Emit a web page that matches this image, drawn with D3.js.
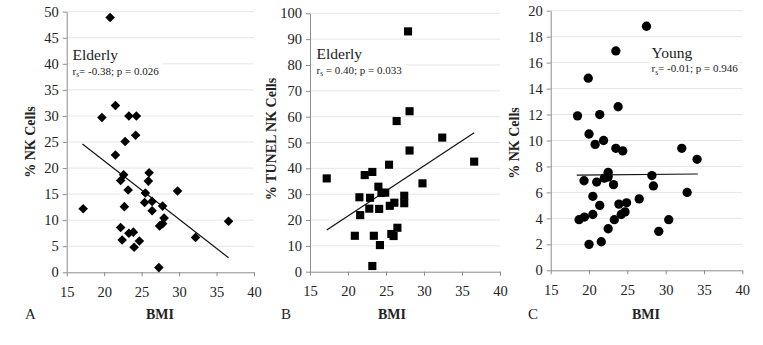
<!DOCTYPE html>
<html>
<head>
<meta charset="utf-8">
<script src="https://cdn.jsdelivr.net/npm/d3@7"></script>
<style>
  body { margin: 0; background: #fff; }
  svg text { font-family: 'Liberation Serif', 'Times New Roman', Times, serif; }
</style>
</head>
<body>
<svg width="763" height="345"></svg>
<script>
// panel A: elderly, % NK cells vs BMI
const bmiA = [20.8, 19.7, 21.5, 23.3, 24.3, 24.2, 22.8, 21.5, 22.6, 22.2, 26.0, 25.9, 23.2, 25.5, 25.4, 26.4,
              26.4, 27.8, 29.8, 17.2, 22.7, 22.2, 28.0, 27.4, 27.8, 22.4, 23.3, 23.9, 24.0, 24.7, 32.2, 36.6, 27.3];
const nkA  = [48.9, 29.7, 32.0, 30.0, 30.0, 26.3, 25.1, 22.5, 18.7, 17.6, 19.1, 17.5, 15.8, 15.2, 13.4, 13.6,
              11.8, 12.7, 15.6, 12.2, 12.6, 8.6, 10.4, 8.9, 9.3, 6.2, 7.5, 7.7, 4.8, 6.0, 6.7, 9.8, 0.9];
const trendA = [[17.1, 24.6], [36.6, 2.8]];

// panel B: elderly, % TUNEL NK cells vs BMI
const bmiB = [27.9, 28.1, 26.4, 32.4, 28.1, 25.4, 36.6, 23.2, 17.2, 22.2, 29.8, 24.0, 24.4, 24.9, 21.5,
              22.9, 27.4, 27.4, 26.1, 25.5, 22.8, 24.1, 21.6, 20.9, 23.4, 25.7, 26.0, 26.5, 24.2, 23.2];
const tunelB = [93.0, 62.1, 58.3, 51.9, 46.9, 41.4, 42.6, 38.6, 36.1, 37.4, 34.2, 32.9, 30.5, 30.6, 28.8,
                28.6, 29.4, 26.5, 26.7, 25.5, 24.4, 24.3, 21.9, 13.9, 13.9, 14.6, 13.8, 17.0, 10.3, 2.2];
const trendB = [[17.2, 16.1], [36.6, 53.8]];

// panel C: young, % NK cells vs BMI
const bmiC = [27.5, 23.5, 19.9, 18.5, 21.4, 23.8, 20.0, 20.8, 21.9, 23.5, 24.4, 32.1, 34.1, 32.8,
              22.5, 28.2, 19.35, 21.0, 22.0, 22.5, 23.2, 28.4, 20.5, 26.55, 21.4, 23.9, 24.9, 24.7,
              24.2, 20.5, 18.7, 19.4, 23.3, 30.4, 22.5, 29.1, 20.0, 21.6];
const nkC  = [18.8, 16.9, 14.8, 11.9, 12.0, 12.6, 10.5, 9.7, 10.0, 9.4, 9.2, 9.4, 8.55, 6.0,
              7.55, 7.3, 6.9, 6.8, 7.1, 7.2, 6.6, 6.5, 5.7, 5.5, 5.0, 5.1, 5.2, 4.5,
              4.3, 4.3, 3.9, 4.1, 3.9, 3.9, 3.2, 3.0, 2.0, 2.2];
const trendC = [[18.4, 7.34], [34.2, 7.42]];

const xTicks = [15, 20, 25, 30, 35, 40];
const yTicksA = [0, 5, 10, 15, 20, 25, 30, 35, 40, 45, 50];
const yTicksB = [0, 10, 20, 30, 40, 50, 60, 70, 80, 90, 100];
const yTicksC = [0, 2, 4, 6, 8, 10, 12, 14, 16, 18, 20];

const serif = "'Liberation Serif', 'Times New Roman', Times, serif";

const panels = [
    {letter: "A", xs: bmiA, ys: nkA, trend: trendA, yTicks: yTicksA, yMax: 50, shape: "diamond",
     yTitle: "% NK Cells", group: "Elderly", rs: "= -0.38; p = 0.026",
     area: {x0: 66.7, x1: 254, y0: 272.3, y1: 11.7}, titleX: 34.5, titleY: 142, letterX: 25, bmiX: 160,
     note: {x: 72.5, y: 60, w: 92}},
    {letter: "B", xs: bmiB, ys: tunelB, trend: trendB, yTicks: yTicksB, yMax: 100, shape: "square",
     yTitle: "% TUNEL NK Cells", group: "Elderly", rs: " = 0.40; p = 0.033",
     area: {x0: 310, x1: 500, y0: 271.7, y1: 13.3}, titleX: 275.5, titleY: 139, letterX: 281, bmiX: 392,
     note: {x: 316.5, y: 59, w: 90}},
    {letter: "C", xs: bmiC, ys: nkC, trend: trendC, yTicks: yTicksC, yMax: 20, shape: "circle",
     yTitle: "% NK Cells", group: "Young", rs: "= -0.01; p = 0.946",
     area: {x0: 550.7, x1: 742.3, y0: 270.3, y1: 10.7}, titleX: 519, titleY: 143, letterX: 528, bmiX: 646,
     note: {x: 651.5, y: 57.5, w: 90}}
];

const svg = d3.select("svg");

const drawPanel = (p) => {
    const g = svg.append("g");
    const scX = d3.scaleLinear().domain([15, 40]).range([p.area.x0, p.area.x1]);
    const scY = d3.scaleLinear().domain([0, p.yMax]).range([p.area.y0, p.area.y1]);

    // gridlines
    g.selectAll(".grid")
     .data(p.yTicks.slice(1))
     .enter()
     .append("line")
     .attr("x1", p.area.x0)
     .attr("x2", p.area.x1)
     .attr("y1", d => scY(d))
     .attr("y2", d => scY(d))
     .style("stroke", "#e6e6e6")
     .style("stroke-width", 1);

    // white box behind annotation
    g.append("rect")
     .attr("x", p.note.x - 2)
     .attr("y", p.note.y - 13)
     .attr("width", p.note.w)
     .attr("height", 31)
     .style("fill", "#fff");

    const axisY = d3.axisLeft(scY).tickValues(p.yTicks).tickSize(4).tickSizeOuter(0);
    const axisX = d3.axisBottom(scX).tickValues(xTicks).tickSize(4).tickSizeOuter(0);

    const gy = g.append("g")
                .attr("transform", `translate(${p.area.x0},0)`)
                .call(axisY);
    const gx = g.append("g")
                .attr("transform", `translate(0,${p.area.y0})`)
                .call(axisX);
    [gy, gx].forEach(ax => {
        ax.attr("font-family", serif).attr("font-size", 14.5);
        ax.select(".domain").style("stroke", "#8c8c8c");
        ax.selectAll(".tick line").style("stroke", "#8c8c8c");
        ax.selectAll("text")
          .attr("font-family", serif)
          .style("fill", "#222");
    });
    gy.selectAll("text").attr("x", -8);
    gx.selectAll("text").attr("y", 14);

    // regression line
    g.append("line")
     .attr("x1", scX(p.trend[0][0]))
     .attr("y1", scY(p.trend[0][1]))
     .attr("x2", scX(p.trend[1][0]))
     .attr("y2", scY(p.trend[1][1]))
     .style("stroke", "#111")
     .style("stroke-width", 1.2);

    // points
    const pts = p.xs.map((x, i) => ({x: x, y: p.ys[i]}));
    let sym;
    if (p.shape == "diamond") {
        sym = d3.symbol().type(d3.symbolSquare).size(46);
    } else if (p.shape == "square") {
        sym = d3.symbol().type(d3.symbolSquare).size(66);
    } else {
        sym = d3.symbol().type(d3.symbolCircle).size(68);
    }
    g.selectAll(".dot")
     .data(pts)
     .enter()
     .append("path")
     .attr("d", sym)
     .attr("transform", d => `translate(${scX(d.x)},${scY(d.y)})` + (p.shape == "diamond" ? " rotate(45)" : ""))
     .style("fill", "#000");

    // annotation
    g.append("text")
     .attr("x", p.note.x)
     .attr("y", p.note.y)
     .attr("font-family", serif)
     .style("font-size", "15.5px")
     .style("fill", "#222")
     .text(p.group);
    const rsText = g.append("text")
                    .attr("x", p.note.x)
                    .attr("y", p.note.y + 14.5)
                    .attr("font-family", serif)
                    .style("font-size", "11px")
                    .style("fill", "#222");
    rsText.append("tspan").text("r");
    rsText.append("tspan").attr("dy", 2.5).style("font-size", "7.5px").text("s");
    rsText.append("tspan").attr("dy", -2.5).text(p.rs);

    // axis titles
    g.append("text")
     .attr("x", p.bmiX)
     .attr("y", 319)
     .attr("text-anchor", "middle")
     .attr("font-family", serif)
     .style("font-size", "14px")
     .style("font-weight", "bold")
     .style("fill", "#222")
     .text("BMI");
    g.append("text")
     .attr("transform", `translate(${p.titleX},${p.titleY}) rotate(-90)`)
     .attr("text-anchor", "middle")
     .attr("font-family", serif)
     .style("font-size", "14px")
     .style("font-weight", "bold")
     .style("fill", "#222")
     .text(p.yTitle);
    g.append("text")
     .attr("x", p.letterX)
     .attr("y", 319)
     .attr("font-family", serif)
     .style("font-size", "15px")
     .style("fill", "#222")
     .text(p.letter);
}

panels.forEach(drawPanel);
</script>
</body>
</html>
